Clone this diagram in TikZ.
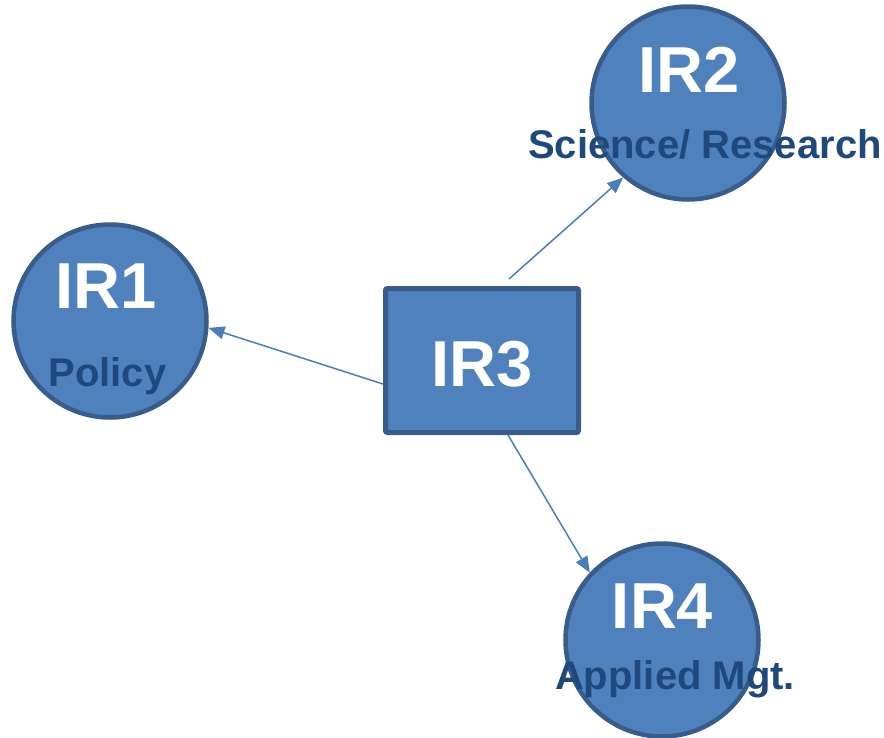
\documentclass[tikz,border=0pt]{standalone}
\usepackage{fontspec}
\setmainfont{Liberation Sans}
\usetikzlibrary{arrows.meta}
\definecolor{fillblue}{HTML}{4F81BD}
\definecolor{edgeblue}{HTML}{385D8A}
\definecolor{textblue}{HTML}{1F497D}
\definecolor{arrowblue}{HTML}{4A7EBB}
\tikzset{
  ircircle/.style={circle, draw=edgeblue, fill=fillblue, line width=4.5pt, minimum size=193pt, inner sep=0pt},
  irbox/.style={rectangle, draw=edgeblue, fill=fillblue, line width=5pt, rounded corners=2pt, minimum width=193pt, minimum height=144pt, inner sep=0pt},
  irtitle/.style={anchor=base, text=white, font=\bfseries\fontsize{65}{65}\selectfont, inner sep=0pt},
  irlabel/.style={anchor=base, text=textblue, font=\bfseries\fontsize{40}{40}\selectfont, inner sep=0pt},
  link/.style={draw=arrowblue, line width=1.5pt, -{Triangle[length=16pt,width=13pt]}}
}
\begin{document}
\begin{tikzpicture}[x=1pt,y=-1pt]
\useasboundingbox (0,0) rectangle (884,737);
\node[ircircle] (ir1) at (110,321) {};
\node[ircircle] (ir2) at (688,103) {};
\node[ircircle] (ir4) at (662,640) {};
\node[irbox] (ir3) at (482,360.5) {};
\node[irtitle] (t1) at (106,308) {IR1};
\node[irlabel] (l1) at (107.5,386) {Policy};
\node[irtitle] (t2) at (689,92) {IR2};
\node[irlabel] (l2) at (705,158) {Science/ Research};
\node[irtitle] (t3) at (482,386) {IR3};
\node[irtitle] (t4) at (662.5,628) {IR4};
\node[irlabel] (l4) at (675,689) {Applied Mgt.};
\coordinate (s2) at (509,279);
\draw[link] (s2) -- (ir2.229);
\draw[link] ([yshift=-23.5pt]ir3.west) -- (ir1.-4);
\draw[link] ([xshift=26pt]ir3.south) -- (ir4.137);
\end{tikzpicture}
\end{document}
